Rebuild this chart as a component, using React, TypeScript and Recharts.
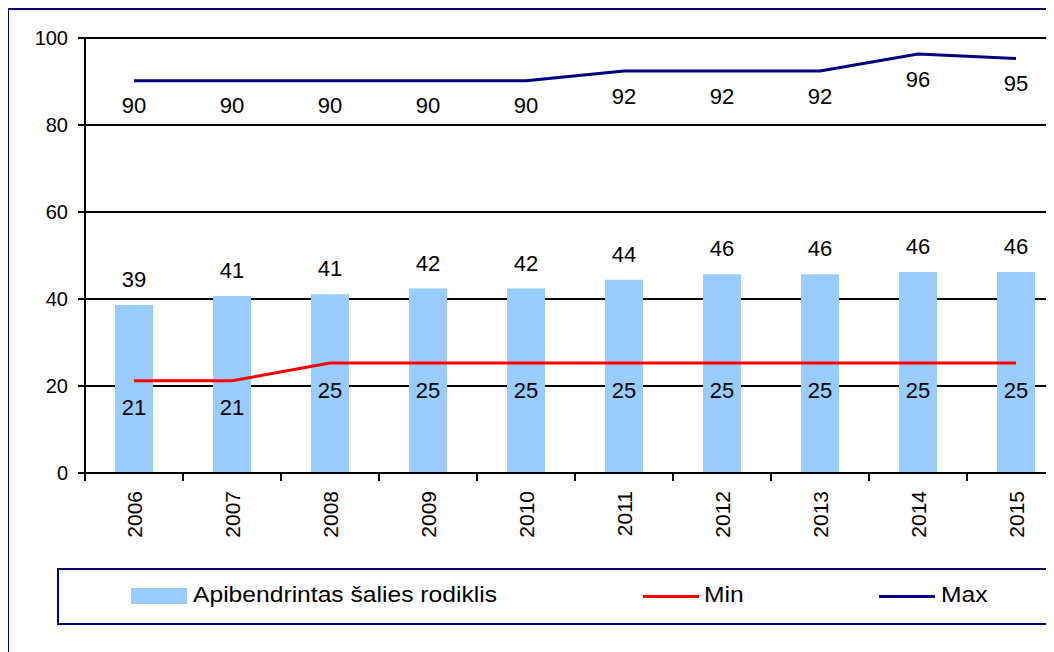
import React from 'react';
import { ComposedChart, Bar, Line, XAxis, YAxis, CartesianGrid, LabelList } from 'recharts';

const years = ['2006', '2007', '2008', '2009', '2010', '2011', '2012', '2013', '2014', '2015'];
const countryValues = [38.6, 40.7, 41.1, 42.4, 42.4, 44.4, 45.7, 45.7, 46.2, 46.2];
const minValues = [21.2, 21.2, 25.3, 25.3, 25.3, 25.3, 25.3, 25.3, 25.3, 25.3];
const maxValues = [90.2, 90.2, 90.2, 90.2, 90.2, 92.4, 92.4, 92.4, 96.3, 95.3];
const yTicks = [0, 20, 40, 60, 80, 100];

const NAVY = '#000080';
const FONT = '"Liberation Sans", Arial, sans-serif';

const rows = years.map((year, i) => ({
  year,
  country: countryValues[i],
  min: minValues[i],
  max: maxValues[i],
}));

// band width is 98px, Excel draws the ticks between categories
const BAND = 98;

const YearTick = (props: any) => {
  const { x, y, payload } = props;
  const left = x - BAND / 2;
  return (
    <g>
      <line x1={left} y1={y - 8} x2={left} y2={y} stroke="#000" strokeWidth={2} />
      <text
        x={x}
        y={y + 10}
        transform={`rotate(-90, ${x}, ${y + 10})`}
        textAnchor="end"
        dominantBaseline="central"
        fontSize={21}
        fontFamily={FONT}
        fill="#000"
      >
        {payload.value}
      </text>
    </g>
  );
};

const round = (v: any) => Math.round(Number(v));
const labelStyle = { fill: '#000', fontSize: 22, fontFamily: FONT };

const Text = ({ children }: { children: React.ReactNode }) => (
  <span style={{ display: 'inline-block', transform: 'scaleX(1.12)', transformOrigin: 'left center', whiteSpace: 'nowrap' }}>
    {children}
  </span>
);

const App: React.FC = () => {
  return (
    <div style={{ position: 'relative', width: 1046, height: 644, overflow: 'hidden', fontFamily: FONT }}>
      <div style={{ position: 'absolute', left: 0, top: -2 }}>
        <ComposedChart
          width={1100}
          height={560}
          data={rows}
          margin={{ top: 32, right: 43, left: 7, bottom: 23 }}
        >
          <CartesianGrid horizontal vertical={false} stroke="#000" strokeWidth={2} />
          <XAxis
            dataKey="year"
            axisLine={{ stroke: '#000', strokeWidth: 2 }}
            tickLine={false}
            tick={<YearTick />}
            height={70}
            interval={0}
          />
          <YAxis
            domain={[0, 100]}
            ticks={yTicks}
            width={70}
            axisLine={{ stroke: '#000', strokeWidth: 2 }}
            tickLine={{ stroke: '#000', strokeWidth: 2 }}
            tickSize={7}
            tickMargin={10}
            tick={{ fill: '#000', fontSize: 20, fontFamily: FONT }}
            interval={0}
          />
          <Bar dataKey="country" fill="#99CCFF" barSize={38} isAnimationActive={false}>
            <LabelList dataKey="country" position="top" offset={18} formatter={round} style={labelStyle} />
          </Bar>
          <Line dataKey="min" stroke="#FF0000" strokeWidth={3} dot={false} type="linear" isAnimationActive={false}>
            <LabelList dataKey="min" position="bottom" offset={19} formatter={round} style={labelStyle} />
          </Line>
          <Line dataKey="max" stroke={NAVY} strokeWidth={3} dot={false} type="linear" isAnimationActive={false}>
            <LabelList dataKey="max" position="bottom" offset={17} formatter={round} style={labelStyle} />
          </Line>
        </ComposedChart>
      </div>
      <div
        style={{
          position: 'absolute',
          left: 49,
          top: 560,
          width: 1100,
          height: 57,
          border: `2px solid ${NAVY}`,
          boxSizing: 'border-box',
          fontSize: 22,
          color: '#000',
        }}
      >
        <div style={{ position: 'absolute', left: 72, top: 18, width: 56, height: 16, background: '#99CCFF' }} />
        <div style={{ position: 'absolute', left: 134, top: 12, lineHeight: '26px' }}>
          <Text>Apibendrintas šalies rodiklis</Text>
        </div>
        <div style={{ position: 'absolute', left: 584, top: 25, width: 56, height: 3, background: '#FF0000' }} />
        <div style={{ position: 'absolute', left: 645, top: 12, lineHeight: '26px' }}>
          <Text>Min</Text>
        </div>
        <div style={{ position: 'absolute', left: 820, top: 25, width: 56, height: 3, background: NAVY }} />
        <div style={{ position: 'absolute', left: 882, top: 12, lineHeight: '26px' }}>
          <Text>Max</Text>
        </div>
      </div>
      <div
        style={{
          position: 'absolute',
          left: -1,
          top: 0,
          width: 1200,
          height: 700,
          borderTop: `2px solid ${NAVY}`,
          borderLeft: `2px solid ${NAVY}`,
          boxSizing: 'border-box',
          pointerEvents: 'none',
        }}
      />
    </div>
  );
};

export default App;
